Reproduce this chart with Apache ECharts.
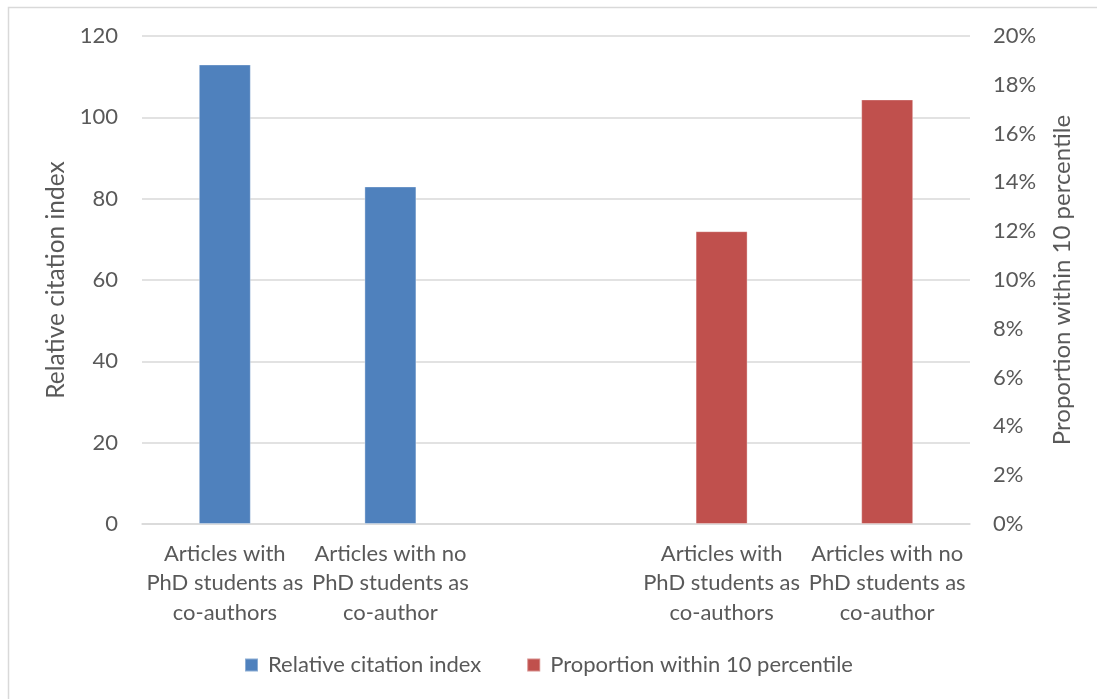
<!DOCTYPE html>
<html>
<head>
<meta charset="utf-8">
<script src="https://cdn.jsdelivr.net/npm/echarts@6/dist/echarts.min.js"></script>
<style>
  html, body { margin: 0; padding: 0; background: #fff; }
  #chart { width: 1097px; height: 699px; }
</style>
</head>
<body>
<div id="chart"></div>
<script>
// categories: the middle one is an empty spacer between the two groups
const categories = [
  'Articles with\nPhD students as\nco-authors',
  'Articles with no\nPhD students as\nco-author',
  '',
  'Articles with\nPhD students as\nco-authors',
  'Articles with no\nPhD students as\nco-author',
]
const citationIndex = [113, 83, null, null, null]
const top10Share = [null, null, null, 0.12, 0.174]

const textColor = '#595959'
const gridColor = '#D9D9D9'
const font = 'Lato, "Open Sans", sans-serif'

const chart = echarts.init(document.getElementById('chart'), null, { renderer: 'canvas' })

chart.setOption({
  animation: false,
  backgroundColor: '#fff',
  textStyle: { fontFamily: font, color: textColor },
  graphic: [
    {
      type: 'rect',
      shape: { x: 8.5, y: 7.5, width: 1200, height: 800 },
      style: { fill: 'none', stroke: '#D9D9D9', lineWidth: 1.5 },
      silent: true,
    },
  ],
  grid: { left: 142, right: 127, top: 36, bottom: 175 },
  legend: {
    bottom: 18,
    left: 'center',
    itemWidth: 13,
    itemHeight: 13,
    itemGap: 45,
    icon: 'rect',
    textStyle: { fontFamily: font, fontSize: 22, color: textColor, padding: [0, 0, 0, 5] },
    data: ['Relative citation index', 'Proportion within 10 percentile'],
  },
  xAxis: {
    type: 'category',
    data: categories,
    axisLine: { lineStyle: { color: gridColor, width: 1.5 } },
    axisTick: { show: false },
    axisLabel: {
      interval: 0,
      margin: 15,
      fontFamily: font,
      fontSize: 22,
      lineHeight: 29.5,
      color: textColor,
    },
  },
  yAxis: [
    {
      type: 'value',
      min: 0,
      max: 120,
      interval: 20,
      name: 'Relative citation index',
      nameLocation: 'middle',
      nameRotate: 90,
      nameGap: 71,
      nameTextStyle: { fontFamily: font, fontSize: 24.5, color: textColor },
      axisLine: { show: false },
      axisTick: { show: false },
      axisLabel: { margin: 24, fontFamily: font, fontSize: 22, color: textColor },
      splitLine: { lineStyle: { color: gridColor, width: 1.5 } },
    },
    {
      type: 'value',
      min: 0,
      max: 0.2,
      interval: 0.02,
      position: 'right',
      name: 'Proportion within 10 percentile',
      nameLocation: 'middle',
      nameRotate: 90,
      nameGap: 80,
      nameTextStyle: { fontFamily: font, fontSize: 24, color: textColor },
      axisLine: { show: false },
      axisTick: { show: false },
      axisLabel: {
        margin: 23,
        fontFamily: font,
        fontSize: 22,
        color: textColor,
        formatter: (v) => Math.round(v * 100) + '%',
      },
      splitLine: { show: false },
    },
  ],
  series: [
    {
      name: 'Relative citation index',
      type: 'bar',
      yAxisIndex: 0,
      data: citationIndex,
      barWidth: 52,
      barGap: '-100%',
      itemStyle: { color: '#4F81BD', borderColor: 'rgba(255,255,255,0.35)', borderWidth: 1 },
    },
    {
      name: 'Proportion within 10 percentile',
      type: 'bar',
      yAxisIndex: 1,
      data: top10Share,
      barWidth: 52,
      barGap: '-100%',
      itemStyle: { color: '#C0504D', borderColor: 'rgba(255,255,255,0.35)', borderWidth: 1 },
    },
  ],
})
</script>
</body>
</html>
